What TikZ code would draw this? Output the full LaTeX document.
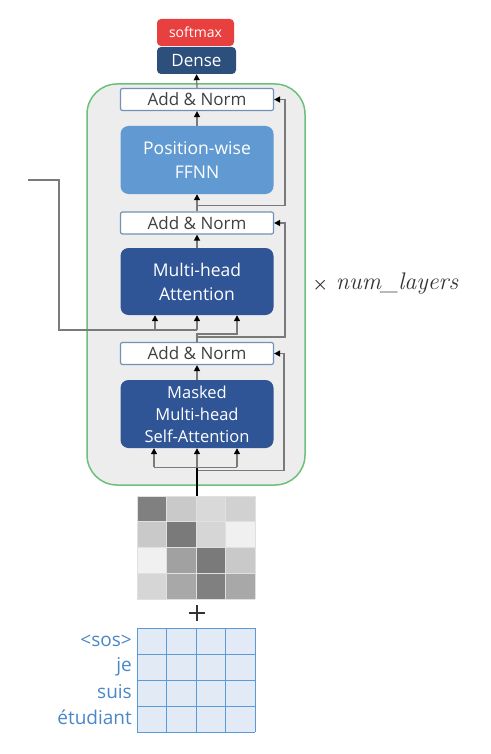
\documentclass[tikz,border=0pt]{standalone}
\usepackage{fontspec}
\setsansfont{Open Sans}
\usetikzlibrary{calc,arrows.meta}
\definecolor{smred}{HTML}{E8403F}
\definecolor{densebl}{HTML}{2D4F7C}
\definecolor{ffnnbl}{HTML}{619AD3}
\definecolor{attbl}{HTML}{2F5597}
\definecolor{normbd}{HTML}{7190BA}
\definecolor{stackgr}{HTML}{6CC07A}
\definecolor{stackbg}{HTML}{EDEDED}
\definecolor{embbl}{HTML}{5B9BD5}
\definecolor{embfill}{HTML}{E1EAF5}
\definecolor{wordbl}{HTML}{4A86C8}
\definecolor{linegr}{HTML}{7A7A7A}

\begin{document}
\begin{tikzpicture}[x=1pt,y=-1pt,
	blk/.style={rounded corners=8pt, text=white, font=\sffamily\fontsize{17.5}{24}\selectfont, align=center, minimum width=153pt, inner sep=0pt},
	norm/.style={draw=normbd, line width=1.2pt, fill=white, rounded corners=2pt, minimum width=153pt, minimum height=22pt, inner sep=0pt, font=\sffamily\fontsize{17}{18}\selectfont, text=black!75},
	conn/.style={draw=linegr, line width=1.3pt},
	arr/.style={conn, -{Triangle[length=6pt,width=6pt,color=black]}}]
			%%%%% START %%%%%
			
			\useasboundingbox (0,0) rectangle (490,754);
			
			\draw[draw=stackgr, line width=1.5pt, fill=stackbg, rounded corners=30pt] (87, 84) rectangle (305, 485);
			
			\node[blk, fill=smred, rounded corners=4pt, minimum width=77pt, minimum height=27pt, font=\sffamily\fontsize{14}{15}\selectfont] (softmax) at (195.5, 32.5) {softmax};
			\node[blk, fill=densebl, rounded corners=4pt, minimum width=79pt, minimum height=27pt, font=\sffamily\fontsize{17}{18}\selectfont] (dense) at (196.5, 60.5) {Dense};
			
			\node[norm] (addA) at (197, 99.5) {Add \& Norm};
			\node[blk, fill=ffnnbl, minimum height=68pt] (ffnn) at (197, 160) {Position-wise\\FFNN};
			\node[norm] (addB) at (197, 223) {Add \& Norm};
			\node[blk, fill=attbl, minimum height=67pt] (mha) at (197, 281.5) {Multi-head\\Attention};
			\node[norm] (addC) at (197, 353.5) {Add \& Norm};
			\node[blk, fill=attbl, minimum height=68pt, font=\sffamily\fontsize{16.5}{22}\selectfont] (mmha) at (197, 414) {Masked\\Multi-head\\Self-Attention};
			
			\node[anchor=west, text=black!80, font=\fontsize{24}{24}\selectfont] (nlayers) at (309, 284) {{\fontsize{19}{19}\selectfont\boldmath$\times$}\hspace{8pt}\textit{num\_layers}};
			
			% stack connectors
			\draw[arr] (addA.north) -- (dense.south);
			\draw[arr] (ffnn.north) -- (addA.south);
			\draw[arr] (addB.north) -- (ffnn.south);
			\draw[arr] (mha.north) -- (addB.south);
			\draw[arr] (mmha.north) -- (addC.south);
			
			% residuals
			\draw[arr] ($(addB.north)+(0,-6)$) -| ([xshift=11pt]addA.east) -- (addA.east);
			\draw[arr] ($(addC.north)+(0,-5)$) -| ([xshift=11pt]addB.east) -- (addB.east);
			\draw[arr] ($(mmha.south)+(0,22)$) -| ([xshift=10pt]addC.east) -- (addC.east);
			
			% encoder output
			\coordinate (enc) at (28, 180);
			\coordinate (encturn) at (59, 330);
			\draw[conn] (enc) -| (encturn) -- (encturn -| mha.south);
			\draw[arr] ($(mha.south)+(-42,15)$) -- ($(mha.south)+(-42,0)$);
			\draw[arr] (encturn -| mha.south) -- (mha.south);
			\draw[arr] (addC.north) -- ++(0,-8) -| ($(mha.south)+(40,0)$);
			
			% decoder input
			\coordinate (petop) at (197, 496);
			\draw[black, line width=1.8pt] (petop) -- ($(mmha.south)+(0,19)$);
			\draw[conn] ($(mmha.south)+(-43,19)$) -- ($(mmha.south)+(40,19)$);
			\draw[arr] ($(mmha.south)+(-43,19)$) -- ($(mmha.south)+(-43,0)$);
			\draw[arr] ($(mmha.south)+(0,19)$) -- (mmha.south);
			\draw[arr] ($(mmha.south)+(40,19)$) -- ($(mmha.south)+(40,0)$);
			
			% positional encoding
			\foreach \c/\r/\g in {0/0/50, 1/0/79, 2/0/85, 3/0/82,
			                      0/1/79, 1/1/48, 2/1/84, 3/1/94,
			                      0/2/94, 1/2/63, 2/2/48, 3/2/79,
			                      0/3/84, 1/3/66, 2/3/50, 3/3/66}
				\fill[white!\g!black] ({137+29.5*\c}, {496+25.75*\r}) rectangle ++(29.5, 25.75);
			\foreach \k in {0,...,4} {
				\draw[white!88!black, line width=0.6pt] ({137+29.5*\k}, 496) -- ++(0, 103);
				\draw[white!88!black, line width=0.6pt] (137, {496+25.75*\k}) -- ++(118, 0);
			}
			\coordinate (plus) at (197, 613);
			\draw[black!80, line width=2.2pt] ($(plus)+(-8,0)$) -- ($(plus)+(8,0)$) ($(plus)+(0,-8)$) -- ($(plus)+(0,8)$);
			
			% embeddings
			\fill[embfill] (137, 628) rectangle (255, 732);
			\foreach \k in {0,...,4} {
				\draw[embbl, line width=1pt] ({137+29.5*\k}, 628) -- ++(0, 104);
				\draw[embbl, line width=1pt] (137, {628+26*\k}) -- ++(118, 0);
			}
			\foreach \w [count=\i] in {<sos>, je, suis, étudiant}
				\node[anchor=east, text=wordbl, font=\sffamily\fontsize{19}{20}\selectfont, inner sep=0pt] (w\i) at (132, {641+25.5*(\i-1)}) {\w};
			
			%%%%% END %%%%%
		\end{tikzpicture}
\end{document}
